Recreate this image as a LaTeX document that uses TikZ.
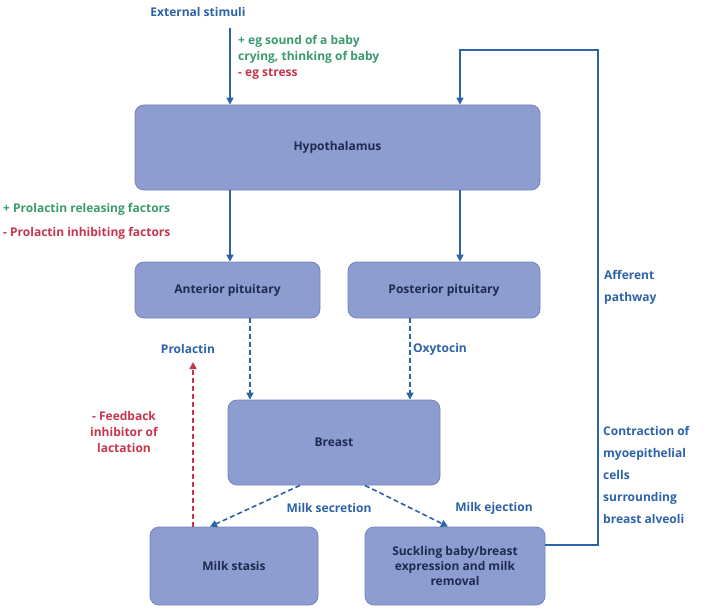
\documentclass[tikz,border=0pt]{standalone}
\usepackage{fontspec}
\setmainfont{Open Sans}
\usetikzlibrary{arrows.meta}
\definecolor{boxf}{HTML}{8E9DD0}
\definecolor{boxd}{HTML}{7384BC}
\definecolor{tblue}{HTML}{2C62A8}
\definecolor{tgreen}{HTML}{3A9A6E}
\definecolor{tred}{HTML}{C8344C}
\definecolor{tdark}{HTML}{1E2A50}
\tikzset{
 bx/.style={draw=boxd,fill=boxf,rounded corners=9pt,line width=0.8pt,text=tdark,font=\fontsize{12}{15}\selectfont\bfseries,align=center,inner sep=0pt},
 lbl/.style={font=\fontsize{12}{16}\selectfont\bfseries,align=left,inner sep=0pt},
 arr/.style={draw=tblue,line width=1.6pt,-{Triangle[length=7pt,width=7pt]}},
 darr/.style={arr,dashed,dash pattern=on 5pt off 3pt},
}
\begin{document}
\begin{tikzpicture}[x=1pt,y=-1pt]
\useasboundingbox (0,0) rectangle (720,615);
\node[bx,minimum width=405,minimum height=85] (hyp) at (337.5,147.5) {Hypothalamus};
\node[bx,minimum width=185,minimum height=56] (ant) at (227.5,290) {Anterior pituitary};
\node[bx,minimum width=192,minimum height=56] (post) at (444,290) {Posterior pituitary};
\node[bx,minimum width=212,minimum height=85] (breast) at (334,442.5) {Breast};
\node[bx,minimum width=168,minimum height=78] (stasis) at (234,566) {Milk stasis};
\node[bx,minimum width=180,minimum height=78] (suck) at (455,566) {Suckling baby/breast\\expression and milk\\removal};
\node[lbl,text=tblue] (ext) at (198,12) {External stimuli};
\coordinate (e1) at (230,28);
\draw[arr] (e1) -- (hyp.north -| e1);
\node[lbl,anchor=north west] (eg) at (238,35) {\textcolor{tgreen}{+ eg sound of a baby}\\\textcolor{tgreen}{crying, thinking of baby}\\\textcolor{tred}{- eg stress}};
\draw[arr] (hyp.south -| 230,0) -- (ant.north -| 230,0);
\draw[arr] (hyp.south -| 460,0) -- (post.north -| 460,0);
\node[lbl,anchor=north west] (prf) at (3,203) {\textcolor{tgreen}{+ Prolactin releasing factors}\\[8pt]\textcolor{tred}{- Prolactin inhibiting factors}};
\node[lbl,text=tblue] (prl) at (188,349) {Prolactin};
\node[lbl,text=tblue] (oxy) at (440,349) {Oxytocin};
\draw[darr] (ant.south -| 250,0) -- (breast.north -| 250,0);
\draw[darr] (post.south -| 410,0) -- (breast.north -| 410,0);
\coordinate (fbt) at (193,362);
\draw[darr,draw=tred] (stasis.north -| fbt) -- (fbt);
\node[lbl,text=tred,align=center] (fb) at (124,432) {- Feedback\\inhibitor of\\lactation};
\draw[darr] ([xshift=-34pt]breast.south) -- ([xshift=-24pt]stasis.north);
\draw[darr] ([xshift=31pt]breast.south) -- ([xshift=-7pt]suck.north);
\node[lbl,text=tblue] (ms) at (329,508) {Milk secretion};
\node[lbl,text=tblue] (me) at (494,508) {Milk ejection};
\coordinate (c1) at (598,545);
\coordinate (c2) at (598,50);
\coordinate (c3) at (460,50);
\draw[arr,line width=1.4pt] (suck.east |- c1) -- (c1) -- (c2) -- (c3) -- (hyp.north -| c3);
\node[lbl,text=tblue,anchor=north west,font=\fontsize{12}{22}\selectfont\bfseries] (aff) at (604,270) {Afferent\\pathway};
\node[lbl,text=tblue,anchor=north west,font=\fontsize{12}{22}\selectfont\bfseries] (con) at (603,426) {Contraction of\\myoepithelial\\cells\\surrounding\\breast alveoli};
\end{tikzpicture}
\end{document}
